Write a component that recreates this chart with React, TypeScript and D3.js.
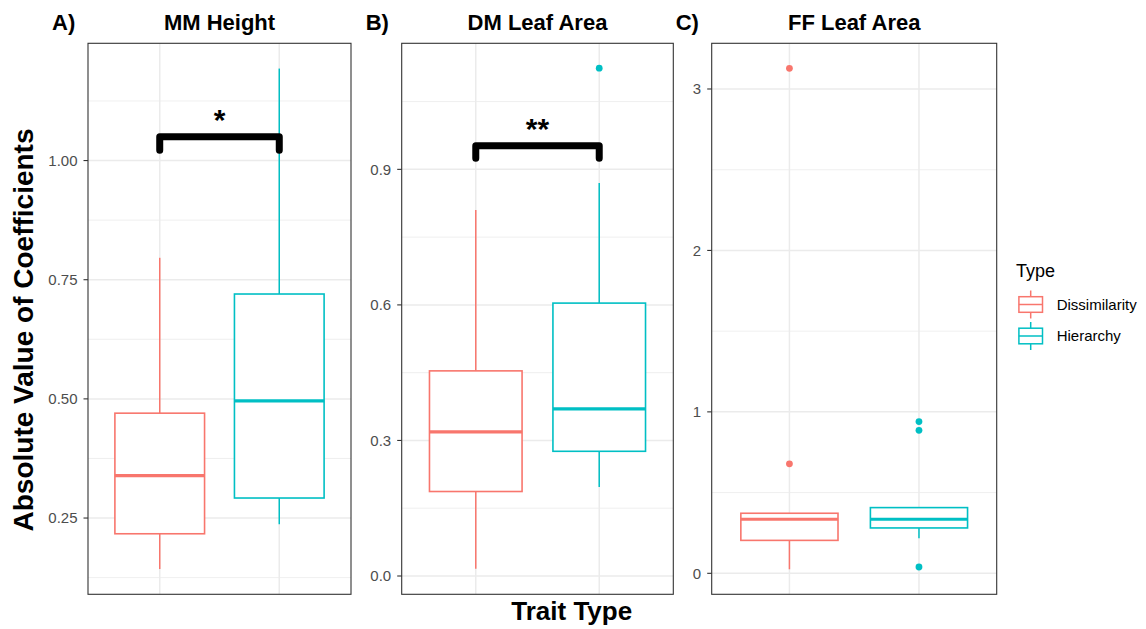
import React from "react";
import * as d3 from "d3";

// ---- data ----
const categories = ["Dissimilarity", "Hierarchy"];
const colors = ["#F8766D", "#00BFC4"];

// [lower whisker, q1, median, q3, upper whisker]
const mmHeightStats = [
  [0.143, 0.217, 0.339, 0.47, 0.796],
  [0.237, 0.292, 0.496, 0.72, 1.193],
];
const mmHeightOutliers: number[][] = [[], []];

const dmLeafStats = [
  [0.016, 0.187, 0.319, 0.454, 0.81],
  [0.197, 0.276, 0.37, 0.604, 0.87],
];
const dmLeafOutliers: number[][] = [[], [1.124]];

const ffLeafStats = [
  [0.025, 0.204, 0.335, 0.372, 0.372],
  [0.217, 0.281, 0.335, 0.407, 0.407],
];
const ffLeafOutliers: number[][] = [[0.678, 3.128], [0.039, 0.886, 0.94]];

const mmTicks = [0.25, 0.5, 0.75, 1.0];
const mmMinor = [0.125, 0.375, 0.625, 0.875, 1.125];
const dmTicks = [0.0, 0.3, 0.6, 0.9];
const dmMinor = [0.15, 0.45, 0.75, 1.05];
const ffTicks = [0, 1, 2, 3];
const ffMinor = [0.5, 1.5, 2.5];

const panels = [
  {
    letter: "A)", title: "MM Height", stats: mmHeightStats, outliers: mmHeightOutliers,
    ticks: mmTicks, minor: mmMinor, fmt: ".2f", domain: [0.09, 1.246],
    x0: 88, x1: 351, bracket: { top: 1.05, leg: 1.0216, label: "*" },
  },
  {
    letter: "B)", title: "DM Leaf Area", stats: dmLeafStats, outliers: dmLeafOutliers,
    ticks: dmTicks, minor: dmMinor, fmt: ".1f", domain: [-0.0405, 1.179],
    x0: 401.7, x1: 673.3, bracket: { top: 0.952, leg: 0.9246, label: "**" },
  },
  {
    letter: "C)", title: "FF Leaf Area", stats: ffLeafStats, outliers: ffLeafOutliers,
    ticks: ffTicks, minor: ffMinor, fmt: "d", domain: [-0.13, 3.283],
    x0: 711.7, x1: 996.7, bracket: null as null | { top: number; leg: number; label: string },
  },
];

const FONT = "'Liberation Sans', Arial, Helvetica, sans-serif";
const Y0 = 43.3;
const Y1 = 594.3;
const GRID = "#EBEBEB";

function Panel({ p }: { p: (typeof panels)[number] }) {
  const x = d3.scaleLinear().domain([0.4, 2.6]).range([p.x0, p.x1]);
  const y = d3.scaleLinear().domain(p.domain).range([Y1, Y0]);
  const f = d3.format(p.fmt);
  const bw = x(1.375) - x(1);
  return (
    <g>
      <rect x={p.x0} y={Y0} width={p.x1 - p.x0} height={Y1 - Y0} fill="#fff" />
      {p.minor.map((v) => (
        <line key={"mi" + v} x1={p.x0} x2={p.x1} y1={y(v)} y2={y(v)} stroke={GRID} strokeWidth={0.8} />
      ))}
      {p.ticks.map((v) => (
        <line key={"ma" + v} x1={p.x0} x2={p.x1} y1={y(v)} y2={y(v)} stroke={GRID} strokeWidth={1.5} />
      ))}
      {categories.map((c, i) => (
        <line key={"vx" + c} x1={x(i + 1)} x2={x(i + 1)} y1={Y0} y2={Y1} stroke={GRID} strokeWidth={1.5} />
      ))}
      {p.stats.map((s, i) => {
        const cx = x(i + 1);
        const col = colors[i];
        return (
          <g key={"box" + i}>
            <line x1={cx} x2={cx} y1={y(s[0])} y2={y(s[1])} stroke={col} strokeWidth={1.5} />
            <line x1={cx} x2={cx} y1={y(s[3])} y2={y(s[4])} stroke={col} strokeWidth={1.5} />
            <rect x={cx - bw} y={y(s[3])} width={2 * bw} height={y(s[1]) - y(s[3])}
              fill="#fff" stroke={col} strokeWidth={1.6} />
            <line x1={cx - bw} x2={cx + bw} y1={y(s[2])} y2={y(s[2])} stroke={col} strokeWidth={3.2} />
            {p.outliers[i].map((o, k) => (
              <circle key={k} cx={cx} cy={y(o)} r={3.4} fill={col} />
            ))}
          </g>
        );
      })}
      {p.bracket && (
        <g>
          <path
            d={`M${x(1)},${y(p.bracket.leg)}L${x(1)},${y(p.bracket.top)}L${x(2)},${y(p.bracket.top)}L${x(2)},${y(p.bracket.leg)}`}
            fill="none" stroke="#000" strokeWidth={7} strokeLinecap="round" strokeLinejoin="round" />
          <text x={(x(1) + x(2)) / 2} y={y(p.bracket.top) - 7} textAnchor="middle"
            fontFamily={FONT} fontWeight="bold" fontSize={30} fill="#000">{p.bracket.label}</text>
        </g>
      )}
      <rect x={p.x0} y={Y0} width={p.x1 - p.x0} height={Y1 - Y0} fill="none" stroke="#333" strokeWidth={1.1} />
      {p.ticks.map((v) => (
        <g key={"t" + v}>
          <line x1={p.x0 - 4.5} x2={p.x0} y1={y(v)} y2={y(v)} stroke="#333" strokeWidth={1.1} />
          <text x={p.x0 - 10.5} y={y(v)} dy="0.35em" textAnchor="end" fontFamily={FONT}
            fontSize={15} fill="#4D4D4D">{f(v)}</text>
        </g>
      ))}
      <text x={(p.x0 + p.x1) / 2} y={29.5} textAnchor="middle" fontFamily={FONT} fontWeight="bold"
        fontSize={22} fill="#000">{p.title}</text>
      <text x={p.x0 - 36} y={29.5} fontFamily={FONT} fontWeight="bold" fontSize={22} fill="#000">{p.letter}</text>
    </g>
  );
}

export default function App() {
  const keyY = [304.5, 336];
  return (
    <svg width={1146} height={629} style={{ position: "absolute", left: 0, top: 0 }}
      xmlns="http://www.w3.org/2000/svg">
      <rect width={1146} height={629} fill="#fff" />
      {panels.map((p) => (
        <Panel key={p.letter} p={p} />
      ))}
      <text transform="translate(33,330) rotate(-90)" textAnchor="middle" fontFamily={FONT}
        fontWeight="bold" fontSize={28} fill="#000">Absolute Value of Coefficients</text>
      <text x={571.7} y={620} textAnchor="middle" fontFamily={FONT} fontWeight="bold"
        fontSize={26} fill="#000">Trait Type</text>
      <text x={1016} y={277} fontFamily={FONT} fontSize={18} fill="#000">Type</text>
      {categories.map((c, i) => {
        const cy = keyY[i];
        const cx = 1030.7;
        return (
          <g key={"lg" + c}>
            <line x1={cx} x2={cx} y1={cy - 14} y2={cy + 14} stroke={colors[i]} strokeWidth={1.5} />
            <rect x={cx - 11.8} y={cy - 7.8} width={23.6} height={15.6} fill="#fff" stroke={colors[i]} strokeWidth={1.5} />
            <line x1={cx - 11.8} x2={cx + 11.8} y1={cy} y2={cy} stroke={colors[i]} strokeWidth={1.5} />
            <text x={1056.7} y={cy} dy="0.35em" fontFamily={FONT} fontSize={15} fill="#000">{c}</text>
          </g>
        );
      })}
    </svg>
  );
}
